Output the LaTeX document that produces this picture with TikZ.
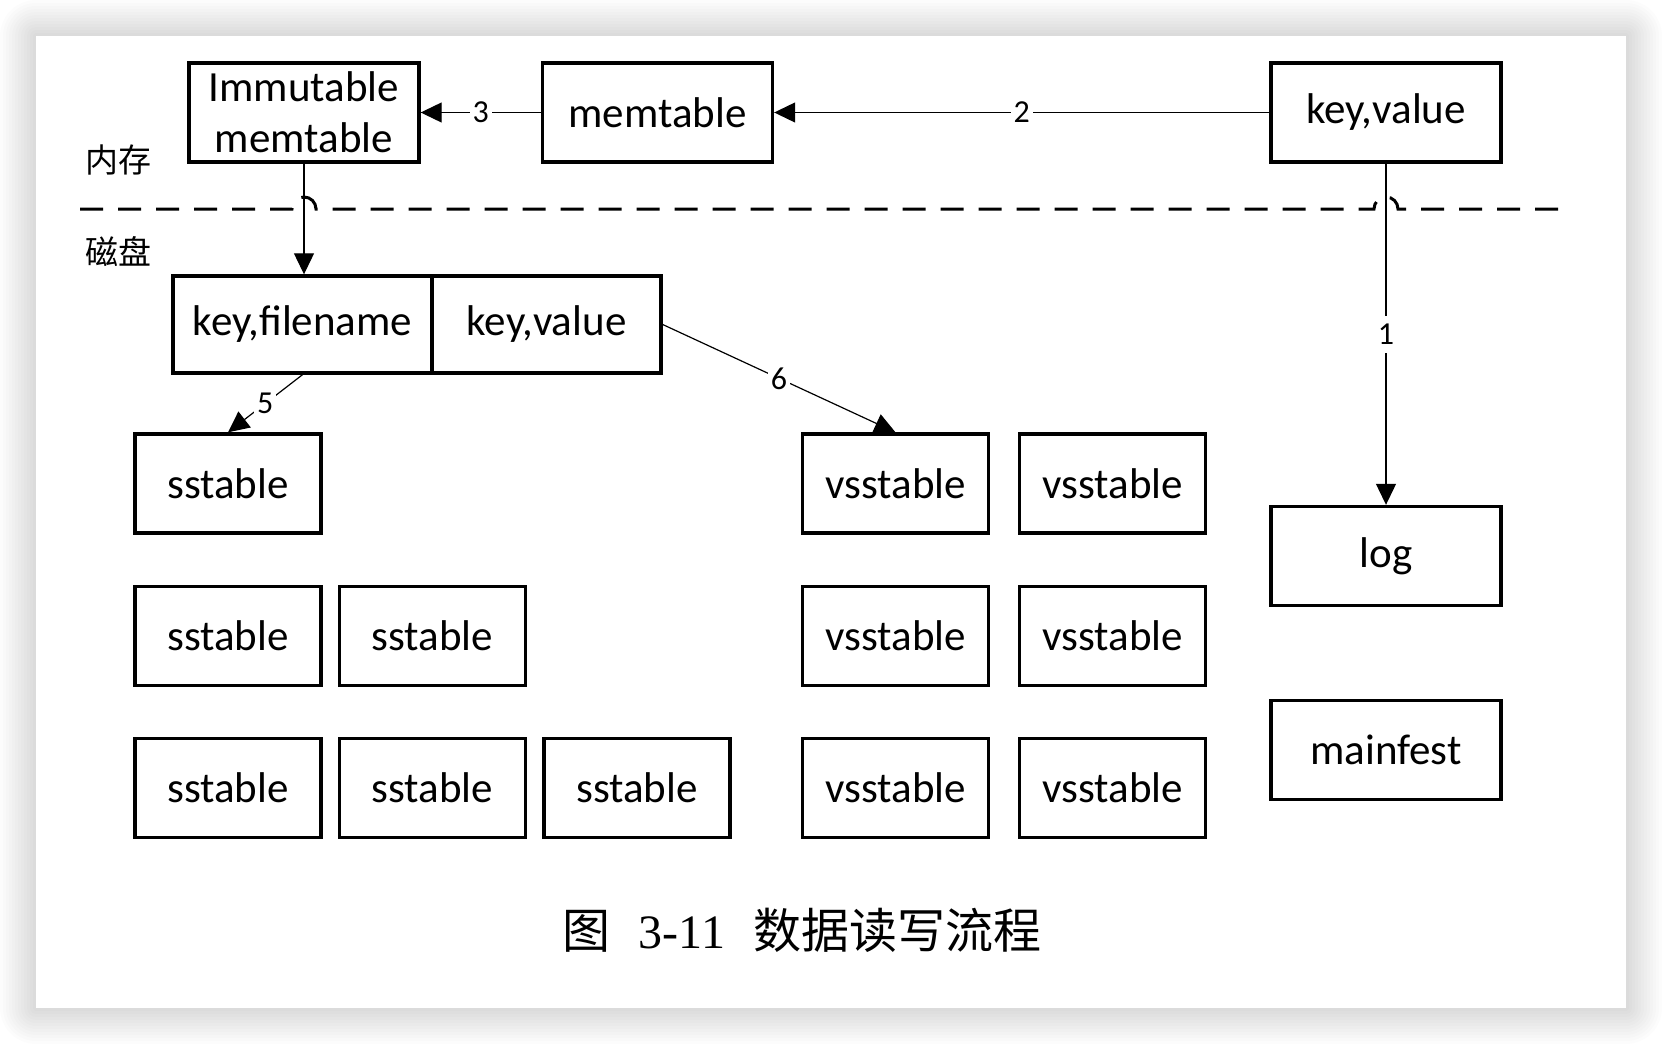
\documentclass[tikz,border=0pt]{standalone}
\usepackage{fontspec}
\setmainfont{Carlito}
\newfontfamily\cjkfont{Noto Sans CJK SC}
\newfontfamily\seriffont{Liberation Serif}
\usetikzlibrary{arrows.meta}
\begin{document}
\begin{tikzpicture}[x=0.5pt,y=-0.5pt,
  box/.style={draw, line width=1.7pt, minimum width=115pt, minimum height=49.5pt, inner sep=0pt, font=\fontsize{21.5}{25.5}\selectfont, align=center},
  smallbox/.style={box, minimum width=93pt},
  conn/.style={line width=0.6pt, -{Triangle[length=10.5pt,width=10pt]}},
  lab/.style={fill=white, inner sep=1.5pt, font=\fontsize{16}{18}\selectfont},
  sidelab/.style={font=\cjkfont\fontsize{16.5}{20}\selectfont},
]
\useasboundingbox (0,0) rectangle (1662,1044);
\foreach \i in {1,...,12} \fill[black, opacity=0.012, rounded corners=\i*1.5pt] (36-\i*3,36-\i*3) rectangle (1626+\i*3,1008+\i*3);
\fill[white] (36,36) rectangle (1626,1008);

% memory
\node[box] (imm) at (304,112.5) {Immutable\\memtable};
\node[box] (mem) at (657.5,112.5) {memtable};
\node[box] (kvtop) at (1386,112.5) {key,value};
\node[sidelab] (lmem) at (118,160) {内存};
\node[sidelab] (ldisk) at (118,252) {磁盘};

% separator
\draw[line width=1.5pt, dash pattern=on 11.5pt off 7.5pt] (80,209) -- (292,209) arc[start angle=180, end angle=0, radius=6pt] -- (1374,209) arc[start angle=180, end angle=0, radius=6pt] -- (1572,209);

% disk
\node[box, minimum width=129.5pt, minimum height=48.5pt] (kf) at (302.5,324.5) {key,filename};
\node[box, minimum width=114.5pt, minimum height=48.5pt] (kv2) at (546.5,324.5) {key,value};

\node[smallbox] (ss11) at (228,483.5) {sstable};
\node[smallbox] (ss21) at (228,636) {sstable};
\node[smallbox] (ss22) at (432.5,636) {sstable};
\node[smallbox] (ss31) at (228,788) {sstable};
\node[smallbox] (ss32) at (432.5,788) {sstable};
\node[smallbox] (ss33) at (637,788) {sstable};

\node[smallbox] (vs11) at (895.5,483.5) {vsstable};
\node[smallbox] (vs12) at (1112.5,483.5) {vsstable};
\node[smallbox] (vs21) at (895.5,636) {vsstable};
\node[smallbox] (vs22) at (1112.5,636) {vsstable};
\node[smallbox] (vs31) at (895.5,788) {vsstable};
\node[smallbox] (vs32) at (1112.5,788) {vsstable};

\node[box] (log) at (1386,556) {log};
\node[box] (mf) at (1386,750) {mainfest};

% connectors
\draw[conn] (kvtop) -- node[lab]{2} (mem);
\draw[conn] (mem) -- node[lab]{3} (imm);
\draw[conn] (imm.south) -- (imm.south |- kf.north);
\draw[conn] (kvtop.south) -- node[lab, inner ysep=4pt]{1} (log.north);
\draw[conn] (kf.south) -- node[lab]{5} (ss11.north);
\draw[conn] (kv2.east) -- node[lab]{6} (vs11.north);

% caption
\node[font=\fontsize{24}{28}\selectfont] (cap) at (802,930) {{\cjkfont 图}\hspace{14pt}{\seriffont 3-11}\hspace{14pt}{\cjkfont 数据读写流程}};
\end{tikzpicture}
\end{document}
